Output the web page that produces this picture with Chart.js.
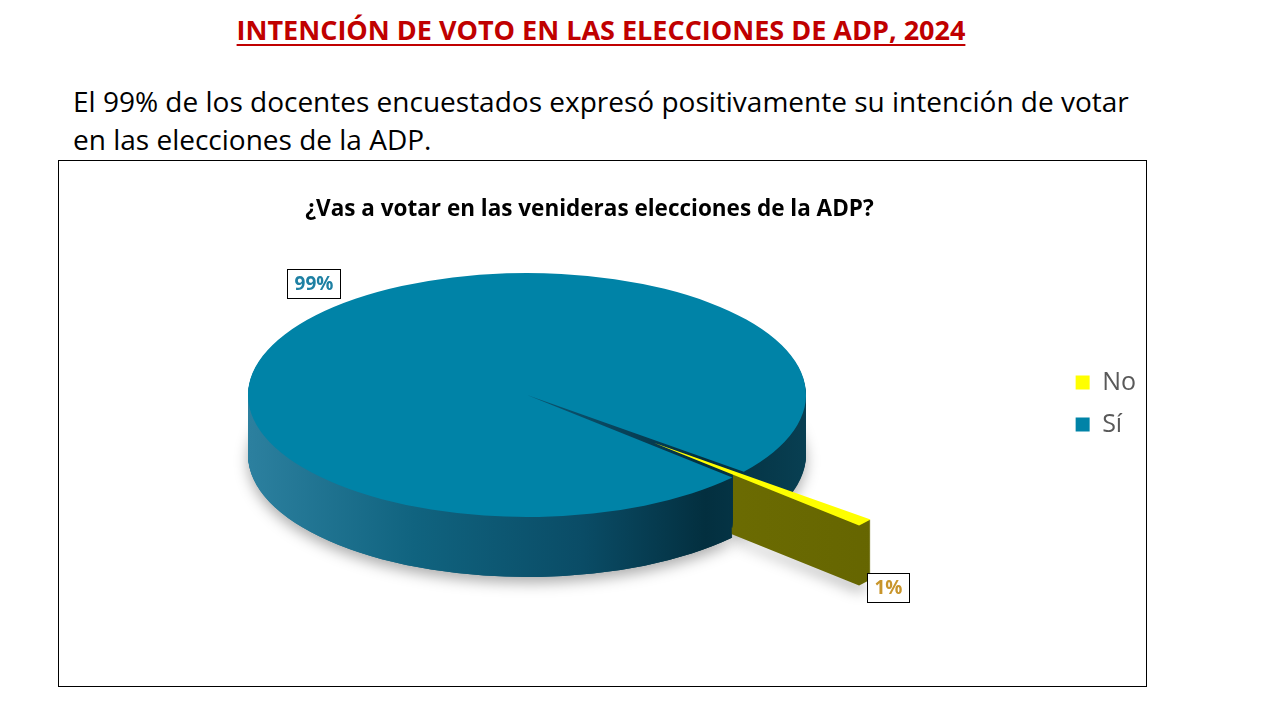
<!DOCTYPE html>
<html lang="es">
<head>
<meta charset="UTF-8">
<title>Intención de voto en las elecciones de ADP, 2024</title>
<script src="https://cdn.jsdelivr.net/npm/chart.js"></script>
<style>
  html, body { margin: 0; padding: 0; background: #fff; }
  body { width: 1280px; height: 720px; position: relative; overflow: hidden;
         font-family: 'Open Sans', 'Noto Sans', sans-serif; }
  h1 { position: absolute; left: 0; top: 11px; width: 1202px; margin: 0; text-align: center;
       font-size: 27px; font-weight: bold; color: #C00000; line-height: 38px;
       text-decoration: underline; text-decoration-thickness: 2px; text-underline-offset: 4px; }
  .lead { position: absolute; left: 73px; top: 82px; width: 1200px; margin: 0;
          font-size: 28px; line-height: 38px; color: #000; }
  #box { position: absolute; left: 58px; top: 160px; width: 1087px; height: 525px;
         border: 1px solid #000; }
  #wrap { position: absolute; left: -26px; top: 0; width: 1113px; height: 525px; }
</style>
</head>
<body>
<h1>INTENCIÓN DE VOTO EN LAS ELECCIONES DE ADP, 2024</h1>
<p class="lead">El 99% de los docentes encuestados expresó positivamente su intención de votar<br>en las elecciones de la ADP.</p>
<div id="box"><div id="wrap"><canvas id="votoChart"></canvas></div></div>

<script>
const FONT = "'Open Sans', 'Noto Sans', sans-serif";

// data
const chartTitle = '¿Vas a votar en las venideras elecciones de la ADP?';
const categories = ['No', 'Sí'];
const percentages = [1, 99];
const labelTexts = percentages.map(v => v + '%');

// styles
const topColors = ['#FFFF00', '#0083A7'];
const sideStops = [
    [[0, '#7A7A06'], [1, '#636300']],
    [[0, '#2C809F'], [0.3, '#10637F'], [0.6, '#0A4C66'], [0.82, '#032F3F'], [1, '#083F52']]
];
const labelColors = ['#C8952B', '#1E80A3'];

// fakes a 3D pie: squashes the library's arcs and stacks darker copies under them
const pie3d = {
    id: 'pie3d',
    beforeDatasetsDraw(chart, args, opts) {
        const ctx = chart.ctx;
        const arcs = chart.getDatasetMeta(0).data;
        const R = arcs[0].outerRadius, cx = arcs[0].x, cy = arcs[0].y;
        const s = opts.rx / R, sy = opts.ry / R;
        chart.$pieMap = { s, sy, R };

        const place = (i, dy) => {
            ctx.translate(opts.cx, opts.cy + dy);
            ctx.scale(s, sy);
            ctx.translate(-cx, -cy);
            const e = (opts.explode[i] || 0) * R;
            if (e) {
                const mid = (arcs[i].startAngle + arcs[i].endAngle) / 2;
                ctx.translate(Math.cos(mid) * e, Math.sin(mid) * e);
            }
        };
        const sideFill = (i) => {
            const g = ctx.createLinearGradient(cx - R, 0, cx + R, 0);
            sideStops[i].forEach(st => g.addColorStop(st[0], st[1]));
            return g;
        };
        const drawSide = (i, clipRight) => {
            const arc = arcs[i];
            const orig = arc.options;
            const fill = sideFill(i);
            arc.options = new Proxy(orig, { get: (t, p) => p === 'backgroundColor' ? fill : t[p] });
            for (let d = opts.depth; d >= 1; d--) {
                ctx.save();
                place(i, d);
                if (clipRight !== undefined) {
                    ctx.beginPath();
                    ctx.rect(cx - 3 * R, cy - 3 * R, clipRight - (cx - 3 * R), 6 * R);
                    ctx.clip();
                }
                if (d === opts.depth && clipRight === undefined) {
                    ctx.shadowColor = 'rgba(0,0,0,0.32)';
                    ctx.shadowBlur = 14;
                    ctx.shadowOffsetY = 6;
                }
                arc.draw(ctx);
                ctx.restore();
            }
            arc.options = orig;
        };
        const drawTop = (i) => {
            ctx.save();
            place(i, 0);
            arcs[i].draw(ctx);
            ctx.restore();
        };

        // back wall, exploded slice wall, front-left part of the big wall again, then the tops
        drawSide(1);
        drawSide(0);
        drawSide(1, cx + R * Math.cos(arcs[1].startAngle));
        drawTop(0);
        drawTop(1);
        return false;
    },
    afterDraw(chart, args, opts) {
        const ctx = chart.ctx;
        const m = chart.$pieMap;
        const arcs = chart.getDatasetMeta(0).data;
        arcs.forEach((arc, i) => {
            const mid = (arc.startAngle + arc.endAngle) / 2;
            const r = arc.outerRadius + (opts.explode[i] || 0) * m.R;
            const X = opts.cx + m.s * Math.cos(mid) * r;
            const Y = opts.cy + m.sy * Math.sin(mid) * r;

            ctx.save();
            ctx.font = 'bold 19px ' + FONT;
            const w = Math.round(ctx.measureText(labelTexts[i]).width) + 14, h = 29;
            let bx, by;
            if (Math.sin(mid) < 0) {
                bx = X - w / 2 - 2;
                by = Y - 17 - h;
            } else {
                bx = X + 2;
                by = Y + opts.depth - 10;
            }
            bx = Math.round(bx); by = Math.round(by);
            ctx.fillStyle = '#fff';
            ctx.fillRect(bx, by, w, h);
            ctx.strokeStyle = '#000';
            ctx.lineWidth = 1;
            ctx.strokeRect(bx + 0.5, by + 0.5, w, h);
            ctx.fillStyle = labelColors[i];
            ctx.textAlign = 'center';
            ctx.textBaseline = 'middle';
            ctx.fillText(labelTexts[i], bx + w / 2 + 0.5, by + h / 2 + 1);
            ctx.restore();
        });
    }
};

const ctx = document.getElementById('votoChart').getContext('2d');
new Chart(ctx, {
    type: 'pie',
    data: {
        labels: categories,
        datasets: [{
            data: percentages,
            backgroundColor: topColors,
            borderWidth: 0
        }]
    },
    options: {
        responsive: true,
        maintainAspectRatio: false,
        animation: false,
        events: [],
        rotation: 129,
        layout: { padding: { left: 0, right: 0, top: 0, bottom: 40 } },
        plugins: {
            title: {
                display: true,
                text: chartTitle,
                color: '#000',
                font: { family: FONT, size: 22.5, weight: 'bold' },
                padding: { top: 35, bottom: 10 }
            },
            legend: {
                position: 'right',
                labels: {
                    color: '#595959',
                    font: { family: FONT, size: 25 },
                    boxWidth: 14,
                    boxHeight: 14,
                    padding: 17
                }
            },
            tooltip: { enabled: false },
            pie3d: { cx: 494, cy: 234, rx: 279, ry: 122, depth: 60, explode: [0.6, 0] }
        }
    },
    plugins: [pie3d]
});
</script>
</body>
</html>
